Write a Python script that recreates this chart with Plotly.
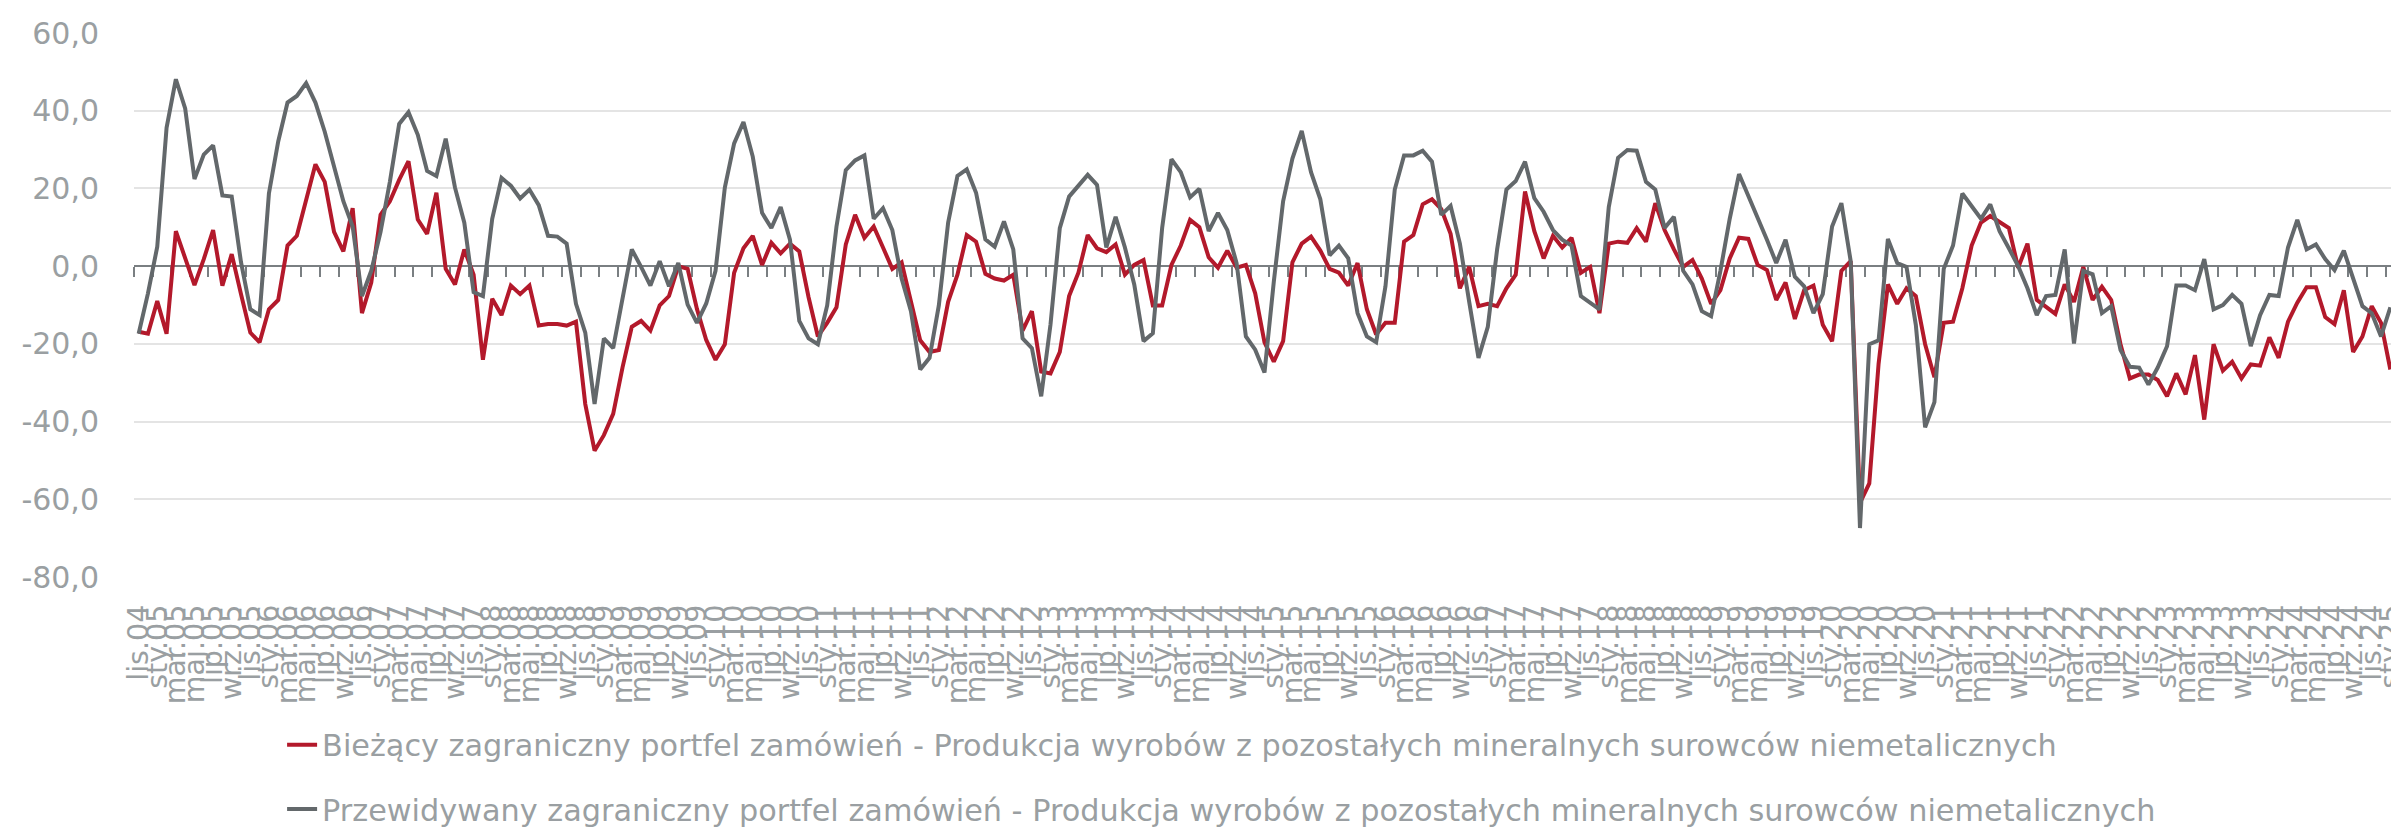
import plotly.graph_objects as go

# miesiące od lis.04 do sty.25
month_names = ['sty', 'lut', 'mar', 'kwi', 'maj', 'cze', 'lip', 'sie', 'wrz', 'paź', 'lis', 'gru']
months = []
y, m = 2004, 10
while (y, m) <= (2025, 0):
    months.append('%s.%02d' % (month_names[m], y % 100))
    m += 1
    if m == 12:
        y, m = y + 1, 0

biezacy = [
    -16.9, -17.4, -9, -17.4, 9, 2, -4.9, 1.8, 9.3, -5, 3.1, -7.2, -17.1, -19.6, -11.1, -8.7,
    5.3, 7.8, 17.2, 26.2, 21.7, 8.8, 3.8, 14.9, -12.1, -4.2, 13.2, 16.7, 22.2, 27, 12, 8.3,
    18.9, -0.7, -4.7, 4.3, -2.2, -24.1, -8.4, -12.6, -5, -7.2, -5, -15.3, -14.9, -14.9, -15.3, -14.3,
    -35.5, -47.5, -43.5, -38, -26.1, -15.6, -14.1, -16.6, -10.1, -7.7, 0, -0.7, -11, -19, -24.1, -20.1,
    -1.7, 4.6, 7.8, 0.3, 6, 3.3, 5.8, 3.8, -8, -18.1, -14.6, -10.6, 5.6, 13.2, 7.3, 10.2,
    4.8, -0.7, 1, -8.7, -19.1, -22.1, -21.6, -9.2, -2.2, 8, 6.3, -2, -3.2, -3.7, -2.2, -16.6,
    -11.6, -27.1, -27.6, -22.1, -7.7, -1.7, 8, 4.6, 3.6, 5.6, -2.2, 0.3, 1.6, -10.1, -10.1, 0.3,
    5.3, 11.9, 10, 2.3, -0.4, 4, -0.4, 0.3, -7, -19.6, -24.6, -19.3, 1, 5.8, 7.6, 4,
    -0.7, -1.7, -5, 0.8, -11.1, -17.6, -14.6, -14.6, 6.3, 8, 15.9, 17.2, 14.7, 8.3, -5.7, -0.2,
    -10.3, -9.7, -10.3, -5.7, -2.2, 19.2, 9, 2, 7.8, 4.8, 7.3, -1.7, -0.2, -12.1, 5.8, 6.3,
    6, 9.8, 6.3, 16.2, 9.3, 4.3, -0.2, 1.6, -3.2, -9.7, -6.2, 2, 7.3, 7, 0.3, -1,
    -8.7, -4.2, -13.6, -6.2, -5, -15.1, -19.3, -1.2, 1.3, -60.9, -55.9, -25.1, -4.7, -9.7, -5.7, -7.7,
    -20.1, -28.6, -14.6, -14.3, -5.7, 5.3, 11.2, 12.9, 11.2, 9.8, -0.4, 5.8, -8.7, -10.6, -12.3, -4.7,
    -9.2, -0.2, -8.7, -5.3, -8.7, -20.1, -28.9, -27.9, -27.9, -29.3, -33.5, -27.6, -33, -22.9, -39.5, -20.1,
    -26.9, -24.6, -28.9, -25.3, -25.6, -18.3, -23.6, -14.3, -9.4, -5.4, -5.4, -13.1, -14.9, -6.2, -22.1, -18.1,
    -10.3, -14.6, -26.6,
]

przewidywany = [
    -17.4, -7, 5, 35.6, 48.1, 40.6, 22.4, 28.7, 31.1, 18.2, 17.9, 1, -11.1, -12.6, 18.7, 32.1,
    42.1, 43.8, 47.1, 42.1, 34.6, 25.7, 16.7, 10.2, -7.7, -1.2, 8.8, 21.7, 36.6, 39.6, 33.8, 24.5,
    23.2, 32.8, 20.2, 11.2, -6.7, -7.7, 12.2, 22.7, 20.7, 17.4, 19.7, 15.7, 7.8, 7.6, 5.8, -9.7,
    -17.1, -35.5, -18.6, -21.1, -7.7, 4.3, -0.2, -5, 1.3, -5.2, 0.8, -9.9, -14.6, -9.6, -1.2, 20.2,
    31.6, 37.1, 28.2, 13.7, 9.8, 15.2, 6.8, -14.1, -18.6, -20.1, -10.1, 10.2, 24.7, 27.2, 28.5, 12.2,
    14.9, 9.3, -3.2, -11.6, -26.6, -23.6, -10.1, 11.2, 23.2, 24.9, 18.9, 6.9, 5, 11.5, 4.3, -18.6,
    -21.1, -33.5, -15, 9.8, 17.9, 20.7, 23.5, 20.9, 4.8, 12.7, 4.8, -4.7, -19.3, -17.3, 9.8, 27.5,
    24.2, 17.7, 19.9, 9, 13.7, 9.3, 0.8, -18.1, -21.5, -27.4, -4, 16.7, 27.7, 34.8, 24.2, 17.2,
    2.8, 5.3, 2, -12.1, -18.1, -19.6, -5.2, 19.7, 28.5, 28.5, 29.7, 26.9, 13.2, 15.5, 5.8, -9.2,
    -23.6, -15.6, 4.3, 19.7, 21.9, 26.9, 17.5, 14, 9.3, 6.8, 5.3, -7.7, -9.4, -11.1, 15.2, 27.9,
    29.9, 29.7, 21.7, 19.7, 9.8, 12.7, -1.2, -4.7, -11.6, -12.9, -1.2, 12.2, 23.7, 18.2, 12.7, 6.8,
    0.8, 6.8, -2.7, -5.2, -12.1, -7.2, 10.2, 16.2, 1.3, -67.4, -20.1, -19.1, 7, 0.8, -0.2, -15.1,
    -41.5, -35, -0.7, 5.3, 18.7, 15.5, 12.2, 15.9, 9, 4.6, 0, -5.7, -12.6, -7.7, -7.4, 4.3,
    -19.9, -1.2, -2.1, -12.1, -10.3, -21.6, -25.9, -26.1, -30.5, -26.1, -20.6, -5, -5, -6.2, 1.8, -11.1,
    -10, -7.4, -9.7, -20.6, -12.6, -7.4, -7.7, 4.8, 11.9, 4.3, 5.6, 1.8, -1, 4, -3.2, -10.3,
    -12.1, -18.1, -10.6,
]

y_ticks = [-80, -60, -40, -20, 0, 20, 40, 60]
y_ticktext = ['-80,0', '-60,0', '-40,0', '-20,0', '0,0', '20,0', '40,0', '60,0']

name_1 = 'Bieżący zagraniczny portfel zamówień - Produkcja wyrobów z pozostałych mineralnych surowców niemetalicznych'
name_2 = 'Przewidywany zagraniczny portfel zamówień - Produkcja wyrobów z pozostałych mineralnych surowców niemetalicznych'

RED = '#B3192B'
GREY = '#63686B'
LABEL = '#9A9FA2'
FONT = 'DejaVu Sans'

fig = go.Figure()
fig.add_trace(go.Scatter(x=months, y=biezacy, name=name_1, mode='lines',
                         line=dict(color=RED, width=4), legendgroup='a'))
# second series on the overlay axis (also carries the tick marks at y=0)
fig.add_trace(go.Scatter(x=months, y=przewidywany, name=name_2, mode='lines',
                         line=dict(color=GREY, width=4), legendgroup='b',
                         xaxis='x2'))

n = len(months)
fig.update_layout(
    width=2399, height=839,
    margin=dict(l=126, r=12, t=25, b=257),
    paper_bgcolor='white', plot_bgcolor='white',
    font=dict(family=FONT, size=30, color=LABEL),
    showlegend=True,
    legend=dict(x=0.0655, y=-0.26, xanchor='left', yanchor='top', traceorder='grouped',
                tracegroupgap=22, font=dict(size=30.3, color=LABEL),
                bgcolor='rgba(0,0,0,0)'),
    xaxis=dict(type='category', categoryorder='array', categoryarray=months,
               range=[-0.5, n - 0.5], showgrid=False, zeroline=False, showline=False,
               ticks='', tickmode='array', tickvals=months[::2], ticktext=months[::2],
               tickangle=-90, ticklabelstandoff=21, automargin=False,
               tickfont=dict(family=FONT, size=28.5, color=LABEL)),
    xaxis2=dict(type='category', categoryorder='array', categoryarray=months,
                overlaying='x', anchor='free', position=80 / 140, side='bottom',
                range=[-0.5, n - 0.5], showgrid=False, zeroline=False, showline=False,
                ticks='outside', ticklen=10, tickwidth=2, tickcolor='#7A7F82',
                tickmode='array', tickvals=[i - 0.5 for i in range(0, n, 2)],
                showticklabels=False, layer='below traces', automargin=False),
    yaxis=dict(range=[-80, 60], tickmode='array', tickvals=y_ticks, ticktext=y_ticktext,
               showgrid=True, gridcolor='#E4E4E4', gridwidth=1.6,
               zeroline=True, zerolinecolor='#7A7F82', zerolinewidth=2,
               showline=False, ticks='', ticklabelstandoff=34, automargin=False,
               tickfont=dict(family=FONT, size=30, color=LABEL)),
)

fig.write_html('out.html')
